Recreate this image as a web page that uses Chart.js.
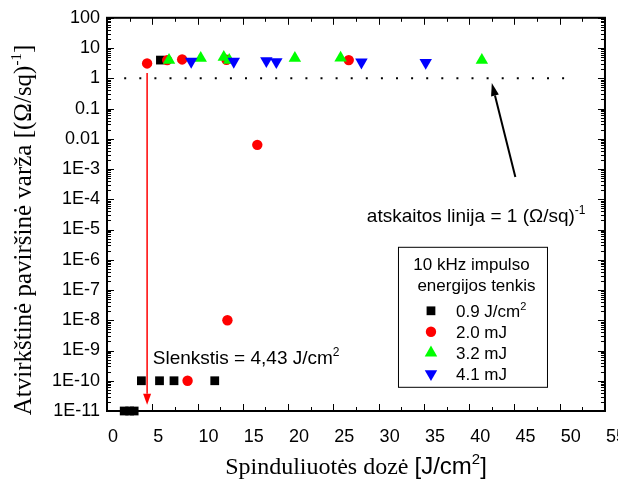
<!DOCTYPE html>
<html>
<head>
<meta charset="utf-8">
<script src="https://cdn.jsdelivr.net/npm/chart.js@4.4.1/dist/chart.umd.min.js"></script>
<style>
  html, body { margin: 0; padding: 0; background: #fff; overflow: hidden; width: 618px; height: 482px; }
  canvas { display: block; }
</style>
</head>
<body>
<canvas id="sheet" width="640" height="482" style="width:640px;height:482px"></canvas>
<script>
Chart.defaults.font.family = 'Liberation Sans, Arial, sans-serif';
Chart.defaults.color = '#000';

// 10 kHz pulse energy series (x = dose J/cm2, y = inverse sheet resistance)
const sqX = [1.9, 2.5, 3.0, 3.8, 5.8, 7.4, 11.9, 5.9];
const sqY = [1e-11, 1e-11, 1e-11, 1e-10, 1e-10, 1e-10, 1e-10, 4.0];
const circX = [4.43, 6.65, 8.3, 13.2, 26.7, 8.9, 13.3, 16.6];
const circY = [3.1, 4.0, 4.2, 4.1, 4.0, 1e-10, 1e-8, 6.3e-3];
const upX = [6.85, 10.35, 12.9, 13.5, 20.75, 25.8, 41.4];
const upY = [4.0, 4.6, 5.0, 4.0, 4.6, 4.7, 4.0];
const downX = [9.3, 14.0, 17.6, 18.7, 28.1, 35.2];
const downY = [3.6, 3.6, 3.8, 3.5, 3.4, 3.3];
const seriesLabels = ['0.9 J/cm', '2.0 mJ', '3.2 mJ', '4.1 mJ'];

// reference line (atskaitos linija) and threshold
const refX = [1.9, 51.8];
const refY = [1, 1];
const thresholdX = 4.43;
const thresholdArrowY = [1.5, 1.6e-11];
const refArrowX = [45.1, 42.5];
const refArrowY = [5.5e-4, 0.7];

const yTickValues = [1e-11, 1e-10, 1e-9, 1e-8, 1e-7, 1e-6, 1e-5, 1e-4, 1e-3, 0.01, 0.1, 1, 10, 100];
const yTickLabels = ['1E-11', '1E-10', '1E-9', '1E-8', '1E-7', '1E-6', '1E-5', '1E-4', '1E-3', '0.01', '0.1', '1', '10', '100'];

const pts = (xs, ys) => xs.map((x, i) => ({x: x, y: ys[i]}));

const serif = 'Liberation Serif, Times New Roman, serif';
const sans = 'Liberation Sans, Arial, sans-serif';

function rich(ctx, parts, x, y, align) {
  let w = 0;
  parts.forEach(p => { ctx.font = p.font; w += ctx.measureText(p.t).width; });
  let cx = align === 'left' ? x : x - w / 2;
  ctx.textAlign = 'left';
  ctx.textBaseline = 'alphabetic';
  parts.forEach(p => {
    ctx.font = p.font;
    ctx.fillText(p.t, cx, y + (p.dy || 0));
    cx += ctx.measureText(p.t).width;
  });
}

function arrow(ctx, x1, y1, x2, y2, color, lw, hl, hw) {
  const a = Math.atan2(y2 - y1, x2 - x1);
  const bx = x2 - hl * Math.cos(a), by = y2 - hl * Math.sin(a);
  ctx.strokeStyle = color; ctx.fillStyle = color; ctx.lineWidth = lw;
  ctx.beginPath(); ctx.moveTo(x1, y1); ctx.lineTo(bx, by); ctx.stroke();
  ctx.beginPath();
  ctx.moveTo(x2, y2);
  ctx.lineTo(bx + hw / 2 * Math.sin(a), by - hw / 2 * Math.cos(a));
  ctx.lineTo(bx - hw / 2 * Math.sin(a), by + hw / 2 * Math.cos(a));
  ctx.closePath(); ctx.fill();
}

const frame = {
  id: 'frame',
  beforeDatasetsDraw(chart) {
    const {ctx, chartArea: a, scales: {x, y}} = chart;
    ctx.save();
    ctx.strokeStyle = '#000';
    ctx.lineWidth = 1;
    ctx.beginPath();
    for (let v = 0; v <= 55; v += 2.5) {
      const px = Math.round(x.getPixelForValue(v)) + 0.5;
      const len = v % 5 === 0 ? 7 : 4;
      ctx.moveTo(px, a.bottom); ctx.lineTo(px, a.bottom - len);
      ctx.moveTo(px, a.top); ctx.lineTo(px, a.top + len);
    }
    for (let e = -11; e <= 2; e++) {
      for (let m = 1; m <= 9; m++) {
        const v = m * Math.pow(10, e);
        if (v > 100) break;
        const py = Math.round(y.getPixelForValue(v)) + 0.5;
        const len = m === 1 ? 7 : 4;
        ctx.moveTo(a.left, py); ctx.lineTo(a.left + len, py);
        ctx.moveTo(a.right, py); ctx.lineTo(a.right - len, py);
      }
    }
    ctx.stroke();
    ctx.lineWidth = 2;
    ctx.strokeRect(a.left, a.top, a.right - a.left, a.bottom - a.top);

    // axis titles
    ctx.fillStyle = '#000';
    rich(ctx, [
      {t: 'Spinduliuotės dozė ', font: '24px ' + serif},
      {t: '[J/cm', font: '24px ' + sans},
      {t: '2', font: '15px ' + sans, dy: -10},
      {t: ']', font: '24px ' + sans}
    ], (a.left + a.right) / 2, 474);
    ctx.save();
    ctx.translate(31, 230);
    ctx.rotate(-Math.PI / 2);
    rich(ctx, [
      {t: 'Atvirkštinė paviršinė varža [(Ω/sq)', font: '25px ' + serif},
      {t: '-1', font: '15px ' + serif, dy: -10},
      {t: ']', font: '25px ' + serif}
    ], 0, 0);
    ctx.restore();
    ctx.restore();
  },
  afterDatasetsDraw(chart) {
    const {ctx, chartArea: a, scales: {x, y}} = chart;
    ctx.save();
    // threshold arrow
    const tx = x.getPixelForValue(thresholdX);
    arrow(ctx, tx, y.getPixelForValue(thresholdArrowY[0]), tx, y.getPixelForValue(thresholdArrowY[1]), '#ff0000', 1.5, 11, 8);
    // reference-line arrow
    arrow(ctx, x.getPixelForValue(refArrowX[0]), y.getPixelForValue(refArrowY[0]),
          x.getPixelForValue(refArrowX[1]), y.getPixelForValue(refArrowY[1]), '#000', 2, 13, 8);

    ctx.fillStyle = '#000';
    rich(ctx, [
      {t: 'Slenkstis = 4,43 J/cm', font: '19px ' + sans},
      {t: '2', font: '12px ' + sans, dy: -8}
    ], x.getPixelForValue(5.06), y.getPixelForValue(6.3e-10) + 7, 'left');
    rich(ctx, [
      {t: 'atskaitos linija = 1 (Ω/sq)', font: '19px ' + sans},
      {t: '-1', font: '12px ' + sans, dy: -8}
    ], x.getPixelForValue(28.7), y.getPixelForValue(3.1e-5) + 7, 'left');

    // legend box
    const lx = a.right - 207, ly = a.top + 229, lw = 149, lh = 140;
    ctx.fillStyle = '#fff';
    ctx.fillRect(lx, ly, lw, lh);
    ctx.strokeStyle = '#000';
    ctx.lineWidth = 1;
    ctx.strokeRect(lx + 0.5, ly + 0.5, lw, lh);
    ctx.fillStyle = '#000';
    ctx.font = '17px ' + sans;
    ctx.textAlign = 'center';
    ctx.textBaseline = 'middle';
    ctx.fillText('10 kHz impulso', lx + lw / 2 - 1, ly + 19);
    ctx.fillText('energijos tenkis', lx + lw / 2 + 4, ly + 40);
    const rows = chart.data.datasets.filter(d => d.isSeries);
    rows.forEach((d, i) => {
      const ry = ly + 64 + i * 21;
      ctx.fillStyle = d.backgroundColor;
      Chart.helpers.drawPoint(ctx, {pointStyle: d.pointStyle, rotation: d.rotation || 0, radius: d.pointRadius, borderWidth: 0}, lx + 33, ry);
      ctx.fillStyle = '#000';
      const parts = [{t: d.label, font: '17px ' + sans}];
      if (i === 0) parts.push({t: '2', font: '11px ' + sans, dy: -7});
      rich(ctx, parts, lx + 58, ry + 6, 'left');
    });
    ctx.restore();
  }
};

const mk = (label, xs, ys, color, style, r, rot, order) => ({
  label: label, isSeries: true, data: pts(xs, ys), backgroundColor: color, borderColor: color,
  borderWidth: 0, pointStyle: style, pointRadius: r, pointHoverRadius: r, rotation: rot,
  showLine: false, clip: false, order: order
});

new Chart(document.getElementById('sheet'), {
  type: 'scatter',
  data: {
    datasets: [
      mk(seriesLabels[0], sqX, sqY, '#000000', 'rect', 6.2, 0, 4),
      mk(seriesLabels[1], circX, circY, '#ff0000', 'circle', 5.2, 0, 3),
      mk(seriesLabels[2], upX, upY, '#00ff00', 'triangle', 7.2, 0, 2),
      mk(seriesLabels[3], downX, downY, '#0000ff', 'triangle', 7.2, 180, 1),
      {
        label: 'ref', data: pts(refX, refY), showLine: true, borderColor: '#000',
        borderWidth: 2, borderDash: [2, 13.1], pointRadius: 0, order: 5
      }
    ]
  },
  options: {
    responsive: false,
    animation: false,
    layout: {padding: {left: 0, top: 14, right: 33, bottom: 0}},
    plugins: {legend: {display: false}, tooltip: {enabled: false}},
    scales: {
      x: {
        type: 'linear', min: 0, max: 55,
        grid: {display: false, drawTicks: false},
        border: {display: false},
        ticks: {stepSize: 5, align: 'start', labelOffset: 1, padding: 15, maxRotation: 0,
                font: {size: 18}, color: '#000'},
        afterFit: s => { s.height = 71; }
      },
      y: {
        type: 'logarithmic', min: 1e-11, max: 100,
        grid: {display: false, drawTicks: false},
        border: {display: false},
        afterBuildTicks: s => { s.ticks = yTickValues.map(v => ({value: v})); },
        ticks: {autoSkip: false, padding: 7, font: {size: 18}, color: '#000',
                callback: (v, i) => yTickLabels[i]},
        afterFit: s => { s.width = 107; }
      }
    }
  },
  plugins: [frame]
});
</script>
</body>
</html>
